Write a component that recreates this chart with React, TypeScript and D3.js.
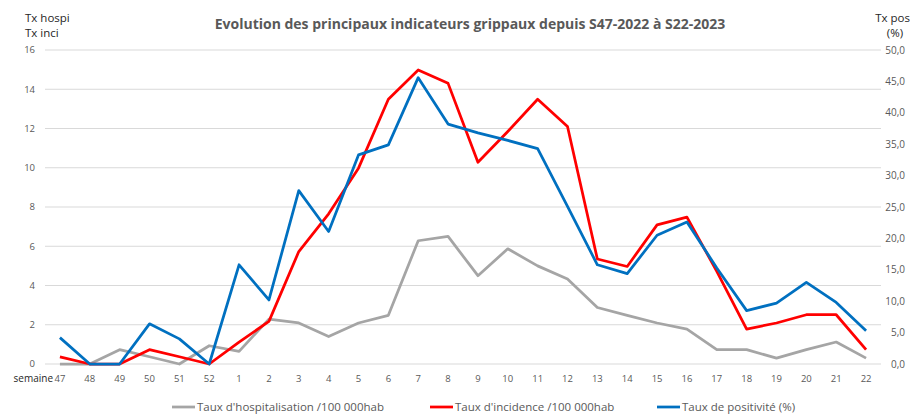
import React from 'react';
import * as d3 from 'd3';

// semaines S47-2022 à S22-2023
const semaines = ['47', '48', '49', '50', '51', '52', '1', '2', '3', '4', '5', '6', '7', '8', '9', '10', '11', '12', '13', '14', '15', '16', '17', '18', '19', '20', '21', '22'];
const txHospi = [0, 0, 0.73, 0.37, 0, 0.93, 0.64, 2.29, 2.09, 1.4, 2.09, 2.48, 6.28, 6.5, 4.5, 5.87, 5.0, 4.33, 2.88, 2.48, 2.09, 1.78, 0.73, 0.73, 0.3, 0.73, 1.12, 0.3];
const txInci = [0.36, 0, 0, 0.73, 0.37, 0, 1.12, 2.17, 5.73, 7.65, 9.98, 13.49, 14.98, 14.3, 10.28, 11.85, 13.49, 12.1, 5.35, 4.97, 7.09, 7.48, 4.72, 1.78, 2.09, 2.51, 2.51, 0.73];
const txPos = [4.2, 0, 0, 6.4, 4.0, 0, 15.8, 10.2, 27.6, 21.1, 33.3, 34.9, 45.6, 38.2, 36.8, 35.6, 34.3, 25.1, 15.8, 14.4, 20.5, 22.6, 15.3, 8.5, 9.7, 13.0, 9.8, 5.3];
const leftTicks = [0, 2, 4, 6, 8, 10, 12, 14, 16];
const rightTicks = [0, 5, 10, 15, 20, 25, 30, 35, 40, 45, 50];
const legende = ["Taux d'hospitalisation /100 000hab", "Taux d'incidence /100 000hab", 'Taux de positivité (%)'];

const W = 910;
const H = 414;
const plot = { left: 45, right: 881, top: 50, bottom: 364 };
const font = "'Open Sans', sans-serif";

const App = () => {
  const x = d3.scaleBand<string>().domain(semaines).range([plot.left, plot.right]);
  const yL = d3.scaleLinear().domain([0, 16]).range([plot.bottom, plot.top]);
  const yR = d3.scaleLinear().domain([0, 50]).range([plot.bottom, plot.top]);
  const cx = (i: number) => (x(semaines[i]) as number) + x.bandwidth() / 2;

  const lineL = d3.line<number>().x((_, i) => cx(i)).y(d => yL(d));
  const lineR = d3.line<number>().x((_, i) => cx(i)).y(d => yR(d));

  const series = [
    { d: lineL(txHospi), color: '#A5A5A5' },
    { d: lineL(txInci), color: '#FF0000' },
    { d: lineR(txPos), color: '#0070C0' },
  ];

  const legendPos = [
    { x1: 172, color: '#A5A5A5' },
    { x1: 430, color: '#FF0000' },
    { x1: 657, color: '#0070C0' },
  ];

  return (
    <svg width={W} height={H} style={{ position: 'absolute', left: 0, top: 0, fontFamily: font }}>
      <rect width={W} height={H} fill="#fff" />
      <text x={470} y={29} textAnchor="middle" fontSize={14} fontWeight="bold" fill="#595959">
        Evolution des principaux indicateurs grippaux depuis S47-2022 à S22-2023
      </text>
      <text x={25} y={22} fontSize={11.5} fill="#262626">Tx hospi</text>
      <text x={25} y={37} fontSize={11.5} fill="#262626">Tx inci</text>
      <text x={910} y={22} textAnchor="end" fontSize={11.5} fill="#262626">Tx pos</text>
      <text x={895} y={37} textAnchor="middle" fontSize={11.5} fill="#262626">(%)</text>

      {leftTicks.map(t => (
        <g key={'l' + t}>
          <line x1={plot.left} x2={plot.right} y1={yL(t)} y2={yL(t)} stroke="#D9D9D9" strokeWidth={1} />
          <text x={35} y={yL(t)} dy="0.35em" textAnchor="end" fontSize={9.5} fill="#595959">{t}</text>
        </g>
      ))}
      {rightTicks.map(t => (
        <text key={'r' + t} x={905} y={yR(t)} dy="0.35em" textAnchor="end" fontSize={10} fill="#595959">
          {d3.format('.1f')(t).replace('.', ',')}
        </text>
      ))}

      {semaines.map((s, i) => (
        <text key={'x' + s} x={cx(i)} y={382} textAnchor="middle" fontSize={9.5} fill="#595959">{s}</text>
      ))}
      <text x={53} y={382} textAnchor="end" fontSize={10} fill="#262626">semaine</text>

      {series.map((s, i) => (
        <path key={'s' + i} d={s.d || ''} fill="none" stroke={s.color} strokeWidth={2.75} strokeLinejoin="round" />
      ))}

      {legende.map((l, i) => (
        <g key={'lg' + i}>
          <line x1={legendPos[i].x1} x2={legendPos[i].x1 + 23} y1={407} y2={407} stroke={legendPos[i].color} strokeWidth={2.75} />
          <text x={legendPos[i].x1 + 25} y={411} fontSize={11.5} fill="#595959">{l}</text>
        </g>
      ))}
    </svg>
  );
};

export default App;
